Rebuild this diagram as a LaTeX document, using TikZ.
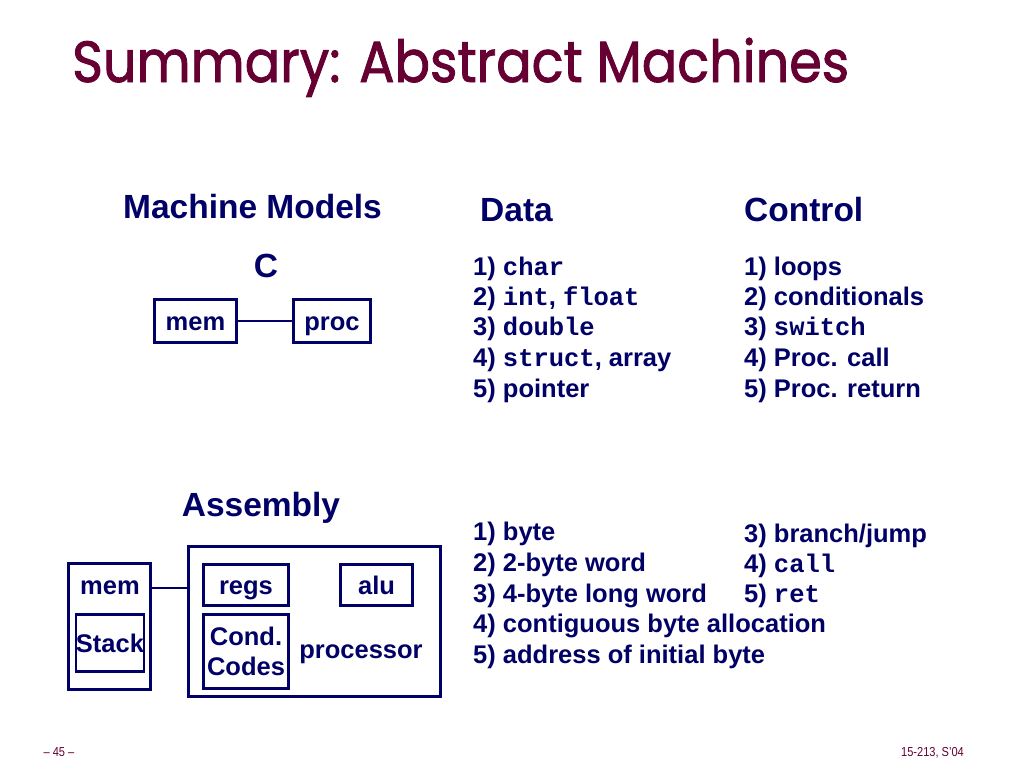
\documentclass[tikz,border=0pt]{standalone}
\usepackage{fontspec}
\setmainfont{Liberation Sans}
\setmonofont{Liberation Mono}
\newfontfamily\titlefont{Poppins}[FakeBold=1.6]
\usepackage{tikz}
\usetikzlibrary{positioning}
\definecolor{navy}{HTML}{000066}
\definecolor{wine}{HTML}{660033}
\newcommand{\kw}[1]{{\ttfamily\bfseries #1}}
\tikzstyle{item} = [inner sep=0, anchor=base west, text=navy,
                    font=\fontsize{25.5}{30.5}\selectfont\bfseries]
\tikzstyle{heading} = [inner sep=0, anchor=base, text=navy,
                       font=\fontsize{33.5}{38}\selectfont\bfseries]
\tikzstyle{box} = [draw=navy, line width=2.6pt, inner sep=0, text=navy,
                   text height=20pt, text depth=2pt,
                   font=\fontsize{25.5}{30.5}\selectfont\bfseries]
\tikzstyle{link} = [draw=navy, line width=2.6pt]
\tikzstyle{foot} = [inner sep=0, anchor=base, text=wine,
                    font=\fontsize{13}{15}\selectfont, xscale=0.85]

\begin{document}
\begin{tikzpicture}[x=1pt, y=-1pt]
				\useasboundingbox[fill=white] (0, 0) rectangle (1024, 768);

				% title
				\node (Title) [inner sep=0, anchor=base west, text=wine, xscale=0.905,
				               font=\fontsize{58}{64}\selectfont\titlefont] at (72, 82) {Summary: Abstract Machines};

				% column heads
				\node (Models) [heading] at (252.5, 218) {Machine Models};
				\node (Data) [heading, anchor=base west] at (480, 221) {Data};
				\node (Control) [heading, anchor=base west] at (744, 221) {Control};

				% C model
				\node (CLabel) [heading] at (266, 277) {C};
				\node (CMem) [box, minimum width=82.4, minimum height=43.4] at (195.5, 321) {mem};
				\node (CProc) [box, minimum width=77.4, minimum height=43.4] at (332, 321) {proc};
				\draw[link] (CMem) -- (CProc);

				\node (CData1) [item] at (473, 275) {1) \kw{char}};
				\node (CData2) [item] at (473, 305) {2) \kw{int}, \kw{float}};
				\node (CData3) [item] at (473, 335) {3) \kw{double}};
				\node (CData4) [item] at (473, 366) {4) \kw{struct}, array};
				\node (CData5) [item] at (473, 397) {5) pointer};

				\node (CCtrl1) [item] at (744, 275) {1) loops};
				\node (CCtrl2) [item] at (744, 305) {2) conditionals};
				\node (CCtrl3) [item] at (744, 335) {3) \kw{switch}};
				\node (CCtrl4) [item] at (744, 366) {4) Proc. call};
				\node (CCtrl5) [item] at (744, 397) {5) Proc. return};

				% assembly model
				\node (ALabel) [heading] at (261, 516) {Assembly};
				\node (AMem) [box, minimum width=82.4, minimum height=126.4] at (109.5, 626.5) {};
				\node (AMemText) [box, draw=none] at (110, 585) {mem};
				\node (Stack) [box, minimum width=67.4, minimum height=57.4] at (110, 643) {Stack};
				\node (AProc) [box, minimum width=252.4, minimum height=150.4] at (314.5, 621.5) {};
				\node (Regs) [box, minimum width=85.4, minimum height=41.4] at (246, 585) {regs};
				\node (Alu) [box, minimum width=72.4, minimum height=41.4] at (376.5, 585) {alu};
				\node (Codes) [box, text height=, text depth=, minimum width=85.4, minimum height=74.4, align=center] at (246, 651.5) {Cond.\\Codes};
				\node (ProcText) [box, draw=none] at (361, 649) {processor};
				\coordinate (Bus) at (170, 588);
				\draw[link, line width=1.4pt] (AMem.east |- Bus) -- (AProc.west |- Bus);

				\node (AData1) [item] at (473, 540) {1) byte};
				\node (AData2) [item] at (473, 571) {2) 2-byte word};
				\node (AData3) [item] at (473, 602) {3) 4-byte long word};
				\node (AData4) [item] at (473, 632) {4) contiguous byte allocation};
				\node (AData5) [item] at (473, 663) {5) address of initial byte};

				\node (ACtrl3) [item] at (744, 542) {3) branch/jump};
				\node (ACtrl4) [item] at (744, 572) {4) \kw{call}};
				\node (ACtrl5) [item] at (744, 602) {5) \kw{ret}};

				% footer
				\node (Page) [foot] at (59, 756) {-- 45 --};
				\node (Course) [foot, anchor=base east] at (964, 756) {15-213, S'04};
			\end{tikzpicture}
\end{document}
